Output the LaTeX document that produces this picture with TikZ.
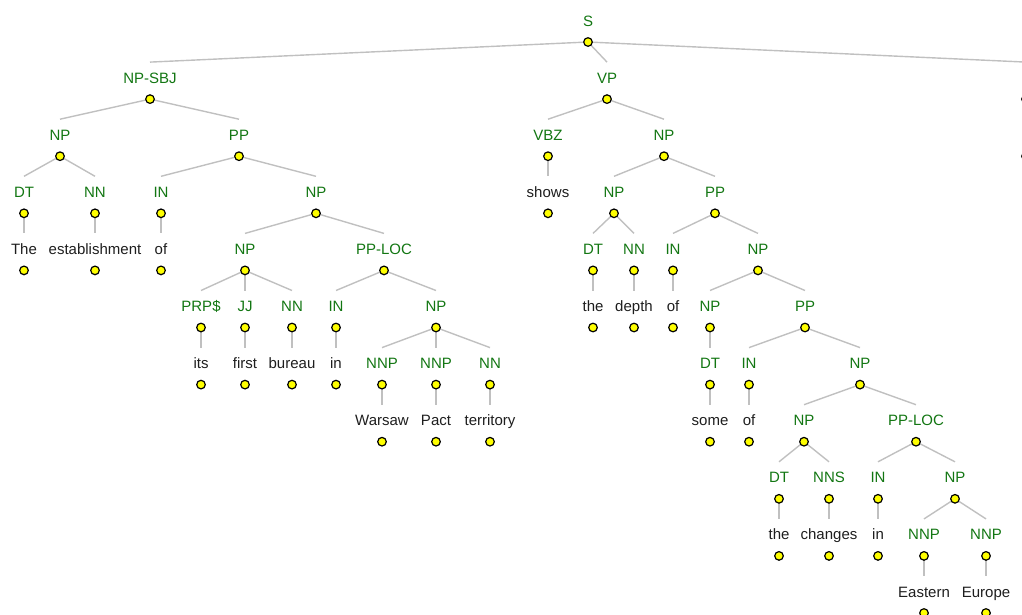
\documentclass[tikz,border=0pt]{standalone}
\usepackage{fontspec}
\setmainfont{Liberation Sans}
\usetikzlibrary{backgrounds}
\definecolor{catgreen}{RGB}{18,118,18}
\definecolor{wordink}{RGB}{30,30,30}
\definecolor{branch}{RGB}{192,192,192}
\definecolor{dotfill}{RGB}{255,255,0}
\tikzset{
  dotnode/.style={circle,draw=black,line width=1.2pt,fill=dotfill,inner sep=0pt,minimum size=8.6pt},
  cat/.style={text=catgreen,inner sep=0pt,font=\fontsize{15}{18}\selectfont},
  word/.style={text=wordink,inner sep=0pt,font=\fontsize{15}{18}\selectfont},
  branchline/.style={draw=branch,line width=1.4pt}
}
% tree node: name, x, depth, text, style
\newcommand\treenode[5]{%
  \node[dotnode] (#1) at (#2,{42+57.1*#3}) {};
  \node[#5,anchor=base] (#1-lab) at (#2,{42+57.1*#3-16}) {#4};
  \coordinate (#1-top) at (#2,{42+57.1*#3-37});
}
\newcommand\treeedge[2]{\draw[branchline] (#1.center) -- (#2-top);}
\begin{document}
\begin{tikzpicture}[x=1pt,y=-1pt]
\useasboundingbox (0,0) rectangle (1022,614);
\clip (0,0) rectangle (1022,614);
% root
\treenode{s}{588}{0}{S}{cat}
\treenode{sbj}{150}{1}{NP-SBJ}{cat}
\treenode{vp}{607}{1}{VP}{cat}
\treenode{punct}{1026}{1}{}{cat}
\treenode{wpunct}{1026}{2}{}{word}
% subject
\treenode{npa}{60}{2}{NP}{cat}
\treenode{ppa}{239}{2}{PP}{cat}
\treenode{dta}{24}{3}{DT}{cat}
\treenode{nna}{95}{3}{NN}{cat}
\treenode{ina}{161}{3}{IN}{cat}
\treenode{npb}{316}{3}{NP}{cat}
\treenode{wthe}{24}{4}{The}{word}
\treenode{westab}{95}{4}{establishment}{word}
\treenode{wofa}{161}{4}{of}{word}
\treenode{npc}{245}{4}{NP}{cat}
\treenode{pploca}{384}{4}{PP-LOC}{cat}
\treenode{prp}{201}{5}{PRP\$}{cat}
\treenode{jj}{245}{5}{JJ}{cat}
\treenode{nnb}{292}{5}{NN}{cat}
\treenode{inb}{336}{5}{IN}{cat}
\treenode{npd}{436}{5}{NP}{cat}
\treenode{wits}{201}{6}{its}{word}
\treenode{wfirst}{245}{6}{first}{word}
\treenode{wbureau}{292}{6}{bureau}{word}
\treenode{wina}{336}{6}{in}{word}
\treenode{nnpa}{382}{6}{NNP}{cat}
\treenode{nnpb}{436}{6}{NNP}{cat}
\treenode{nnc}{490}{6}{NN}{cat}
\treenode{wwarsaw}{382}{7}{Warsaw}{word}
\treenode{wpact}{436}{7}{Pact}{word}
\treenode{wterr}{490}{7}{territory}{word}
% predicate
\treenode{vbz}{548}{2}{VBZ}{cat}
\treenode{npe}{664}{2}{NP}{cat}
\treenode{wshows}{548}{3}{shows}{word}
\treenode{npf}{614}{3}{NP}{cat}
\treenode{ppb}{715}{3}{PP}{cat}
\treenode{dtb}{593}{4}{DT}{cat}
\treenode{nnd}{634}{4}{NN}{cat}
\treenode{inc}{673}{4}{IN}{cat}
\treenode{npg}{758}{4}{NP}{cat}
\treenode{wtheb}{593}{5}{the}{word}
\treenode{wdepth}{634}{5}{depth}{word}
\treenode{wofb}{673}{5}{of}{word}
\treenode{nph}{710}{5}{NP}{cat}
\treenode{ppc}{805}{5}{PP}{cat}
\treenode{dtc}{710}{6}{DT}{cat}
\treenode{ind}{749}{6}{IN}{cat}
\treenode{npi}{860}{6}{NP}{cat}
\treenode{wsome}{710}{7}{some}{word}
\treenode{wofc}{749}{7}{of}{word}
\treenode{npj}{804}{7}{NP}{cat}
\treenode{pplocb}{916}{7}{PP-LOC}{cat}
\treenode{dtd}{779}{8}{DT}{cat}
\treenode{nns}{829}{8}{NNS}{cat}
\treenode{ine}{878}{8}{IN}{cat}
\treenode{npk}{955}{8}{NP}{cat}
\treenode{wthec}{779}{9}{the}{word}
\treenode{wchanges}{829}{9}{changes}{word}
\treenode{winb}{878}{9}{in}{word}
\treenode{nnpc}{924}{9}{NNP}{cat}
\treenode{nnpd}{986}{9}{NNP}{cat}
\treenode{weastern}{924}{10}{Eastern}{word}
\treenode{weurope}{986}{10}{Europe}{word}
% branches, behind the dots
\begin{scope}[on background layer]
\treeedge{s}{sbj}\treeedge{s}{vp}\treeedge{s}{punct}\treeedge{punct}{wpunct}
\treeedge{sbj}{npa}\treeedge{sbj}{ppa}
\treeedge{npa}{dta}\treeedge{npa}{nna}
\treeedge{dta}{wthe}\treeedge{nna}{westab}
\treeedge{ppa}{ina}\treeedge{ppa}{npb}
\treeedge{ina}{wofa}
\treeedge{npb}{npc}\treeedge{npb}{pploca}
\treeedge{npc}{prp}\treeedge{npc}{jj}\treeedge{npc}{nnb}
\treeedge{prp}{wits}\treeedge{jj}{wfirst}\treeedge{nnb}{wbureau}
\treeedge{pploca}{inb}\treeedge{pploca}{npd}
\treeedge{inb}{wina}
\treeedge{npd}{nnpa}\treeedge{npd}{nnpb}\treeedge{npd}{nnc}
\treeedge{nnpa}{wwarsaw}\treeedge{nnpb}{wpact}\treeedge{nnc}{wterr}
\treeedge{vp}{vbz}\treeedge{vp}{npe}
\treeedge{vbz}{wshows}
\treeedge{npe}{npf}\treeedge{npe}{ppb}
\treeedge{npf}{dtb}\treeedge{npf}{nnd}
\treeedge{dtb}{wtheb}\treeedge{nnd}{wdepth}
\treeedge{ppb}{inc}\treeedge{ppb}{npg}
\treeedge{inc}{wofb}
\treeedge{npg}{nph}\treeedge{npg}{ppc}
\treeedge{nph}{dtc}\treeedge{dtc}{wsome}
\treeedge{ppc}{ind}\treeedge{ppc}{npi}
\treeedge{ind}{wofc}
\treeedge{npi}{npj}\treeedge{npi}{pplocb}
\treeedge{npj}{dtd}\treeedge{npj}{nns}
\treeedge{dtd}{wthec}\treeedge{nns}{wchanges}
\treeedge{pplocb}{ine}\treeedge{pplocb}{npk}
\treeedge{ine}{winb}
\treeedge{npk}{nnpc}\treeedge{npk}{nnpd}
\treeedge{nnpc}{weastern}\treeedge{nnpd}{weurope}
\end{scope}
\end{tikzpicture}
\end{document}
